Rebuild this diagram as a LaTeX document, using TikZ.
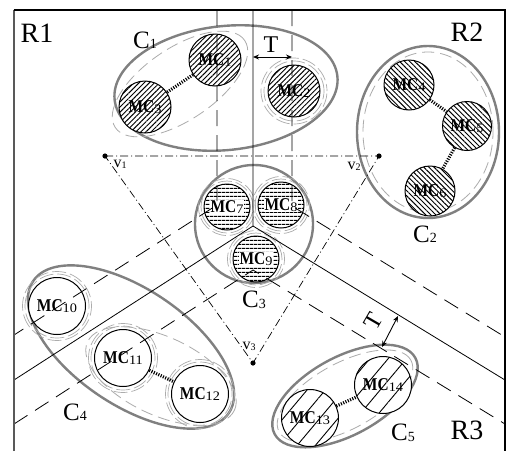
\documentclass[tikz,border=0pt]{standalone}
\usepackage{fontspec}
\usepackage{graphicx}
\setmainfont{Liberation Serif}
\usetikzlibrary{shapes.geometric,patterns.meta,arrows.meta}
\newcommand{\mcl}[1]{{\fontsize{18}{18}\selectfont\bfseries\scalebox{0.86}[1]{MC}}\raisebox{-1.5pt}{\fontsize{13}{13}\selectfont\scalebox{1.1}[1]{#1}}}
\newcommand{\wbx}[1]{{\setlength{\fboxsep}{0.6pt}\colorbox{white}{#1}}}
\newcommand{\clab}[1]{{\fontsize{25}{25}\selectfont C}\raisebox{-0.5pt}{\fontsize{14}{14}\selectfont #1}}
\newcommand{\vlab}[1]{{\fontsize{16}{16}\selectfont v}\raisebox{-1pt}{\fontsize{10}{10}\selectfont #1}}
\begin{document}
\begin{tikzpicture}[x=1pt,y=-1pt,
  mcc/.style={circle, draw, line width=1pt, inner sep=0pt},
  hatA/.style={preaction={fill=white}, pattern={Lines[angle=45,distance=3.6pt,line width=0.95pt]}},
  hatB/.style={preaction={fill=white}, pattern={Lines[angle=-45,distance=3.6pt,line width=0.95pt]}},
  hatC/.style={preaction={fill=white}, pattern={Lines[angle=0,distance=4pt,line width=1.3pt]}},
  hatE/.style={preaction={fill=white}, pattern={Lines[angle=50,distance=14pt,line width=0.9pt]}},
  whitefill/.style={fill=white},
  clus/.style={ellipse, draw=gray, line width=2.4pt, inner sep=0pt},
  innerdash/.style={ellipse, draw=gray!65, line width=0.8pt, dash pattern=on 12pt off 6pt, inner sep=0pt},
  ring/.style={draw=gray!65, line width=0.7pt, dash pattern=on 14pt off 4pt},
  bound/.style={line width=0.8pt},
  offs/.style={line width=0.8pt, dash pattern=on 16pt off 9pt},
  tri/.style={line width=0.7pt, dash pattern=on 8pt off 3pt on 1pt off 3pt},
  link/.style={line width=3.2pt, dash pattern=on 1.1pt off 1.4pt},
  dimarrow/.style={line width=0.9pt, {Stealth[length=6pt,width=5pt]}-{Stealth[length=6pt,width=5pt]}},
  rlab/.style={font=\fontsize{28}{28}\selectfont, inner sep=0pt},
  tlab/.style={font=\fontsize{24}{24}\selectfont, inner sep=0pt}
]
\useasboundingbox (0,0) rectangle (508,451);
\fill[white] (0,0) rectangle (508,451);

% cluster outlines
\node[clus, minimum width=224pt, minimum height=124pt, rotate=6] (C1) at (226,88) {};
\node[clus, minimum width=142pt, minimum height=172pt] (C2) at (428,132) {};
\node[clus, circle, minimum size=118pt] (C3) at (254,224) {};
\node[clus, minimum width=236pt, minimum height=116pt, rotate=-34] (C4) at (131,347) {};
\node[clus, minimum width=160pt, minimum height=78pt, rotate=28.5] (C5) at (345,396) {};

% inner dashed outlines
\node[innerdash, minimum width=156pt, minimum height=72pt, rotate=34] (C1in) at (180,84) {};
\node[innerdash, minimum width=130pt, minimum height=160pt] (C2in) at (428,132) {};
\node[innerdash, minimum width=162pt, minimum height=78pt, rotate=-25] (C4in) at (161,376) {};
\node[innerdash, minimum width=150pt, minimum height=66pt, rotate=28.5] (C5in) at (345,396) {};

% micro-clusters
\node[mcc,hatA,minimum size=52pt] (MC1) at (215,60) {\mcl{1}};
\node[mcc,hatA,minimum size=52pt] (MC2) at (294,91) {\mcl{2}};
\node[mcc,hatA,minimum size=52pt] (MC3) at (145,107) {\mcl{3}};
\node[mcc,hatB,minimum size=50pt] (MC4) at (409,85) {\mcl{4}};
\node[mcc,hatB,minimum size=49pt] (MC5) at (467,126) {\mcl{5}};
\node[mcc,hatB,minimum size=50pt] (MC6) at (430,191) {\mcl{6}};
\node[mcc,hatC,minimum size=46pt] (MC7) at (227,207) {\wbx{\mcl{7}}};
\node[mcc,hatC,minimum size=46pt] (MC8) at (281,205) {\wbx{\mcl{8}}};
\node[mcc,hatC,minimum size=46pt] (MC9) at (256,259) {\wbx{\mcl{9}}};
\node[mcc,whitefill,minimum size=57pt] (MC10) at (57,306) {\mcl{10}};
\node[mcc,whitefill,minimum size=57pt] (MC11) at (123,358) {\mcl{11}};
\node[mcc,whitefill,minimum size=57pt] (MC12) at (200,394) {\mcl{12}};
\node[mcc,hatE,minimum size=57pt] (MC13) at (310,418) {\mcl{13}};
\node[mcc,hatE,minimum size=57pt] (MC14) at (383,385) {\mcl{14}};

% rings
\draw[ring] (MC2.center) circle[radius=30pt];
\draw[ring, dash phase=7pt] (MC2.center) circle[radius=33pt];
\foreach \n in {MC7,MC8,MC9}{
  \draw[ring] (\n.center) circle[radius=26pt];
  \draw[ring, dash phase=7pt] (\n.center) circle[radius=28.5pt];
}
\foreach \n in {MC10,MC11,MC12}{
  \draw[ring] (\n.center) circle[radius=32pt];
  \draw[ring, dash phase=9pt] (\n.center) circle[radius=34.5pt];
}

% links
\draw[link] (MC1) -- (MC3);
\draw[link] (MC4) -- (MC5);
\draw[link] (MC5) -- (MC6);
\draw[link] (MC11) -- (MC12);
\draw[link] (MC13) -- (MC14);

% region boundaries
\coordinate (O) at (253,226);
\coordinate (Otop) at (253,10);
\coordinate (OL) at (14,380);
\coordinate (OR) at (505,380);
\draw[bound] (Otop) -- (O) -- (OL);
\draw[bound] (O) -- (OR);

\coordinate (a1) at (217,10);
\coordinate (a2) at (217,205);
\coordinate (a3) at (14,335);
\coordinate (b1) at (292,10);
\coordinate (b2) at (292,206);
\coordinate (b3) at (505,337);
\coordinate (c1) at (14,424);
\coordinate (c2) at (253,270);
\coordinate (c3) at (505,424);
\draw[offs] (a1) -- (a2) -- (a3);
\draw[offs] (b1) -- (b2) -- (b3);
\draw[offs] (c1) -- (c2) -- (c3);

% triangle
\coordinate (v1) at (105,156);
\coordinate (v2) at (379,156);
\coordinate (v3) at (253,363);
\draw[tri] (v1) -- (v2) -- (v3) -- cycle;
\fill (v1) circle[radius=2.6pt];
\fill (v2) circle[radius=2.6pt];
\fill (v3) circle[radius=2.6pt];
\node[inner sep=0pt] (lv1) at (120,164) {\vlab{1}};
\node[inner sep=0pt] (lv2) at (354,166) {\vlab{2}};
\node[inner sep=0pt] (lv3) at (249,346) {\vlab{3}};

% T dimensions
\coordinate (Ta) at (253,57);
\coordinate (Tb) at (292,57);
\draw[dimarrow] (Ta) -- (Tb);
\node[tlab] (T1) at (271,45) {T};
\coordinate (Tc) at (382,347);
\coordinate (Td) at (398,316);
\draw[dimarrow] (Tc) -- (Td);
\node[tlab, rotate=60] (T2) at (373,321) {T};

% frame
\draw[line width=1.6pt, black!65] (14,451) -- (14,10);
\draw[line width=1.2pt] (13.5,10) -- (505,10) -- (505,451);

% labels
\node[rlab] (R1) at (37,33) {R1};
\node[rlab] (R2) at (467,32) {R2};
\node[rlab] (R3) at (467,430) {R3};
\node[inner sep=0pt] (L1) at (145,40) {\clab{1}};
\node[inner sep=0pt] (L2) at (425,234) {\clab{2}};
\node[inner sep=0pt] (L3) at (254,300) {\clab{3}};
\node[inner sep=0pt] (L4) at (75,412) {\clab{4}};
\node[inner sep=0pt] (L5) at (403,433) {\clab{5}};
\end{tikzpicture}
\end{document}
